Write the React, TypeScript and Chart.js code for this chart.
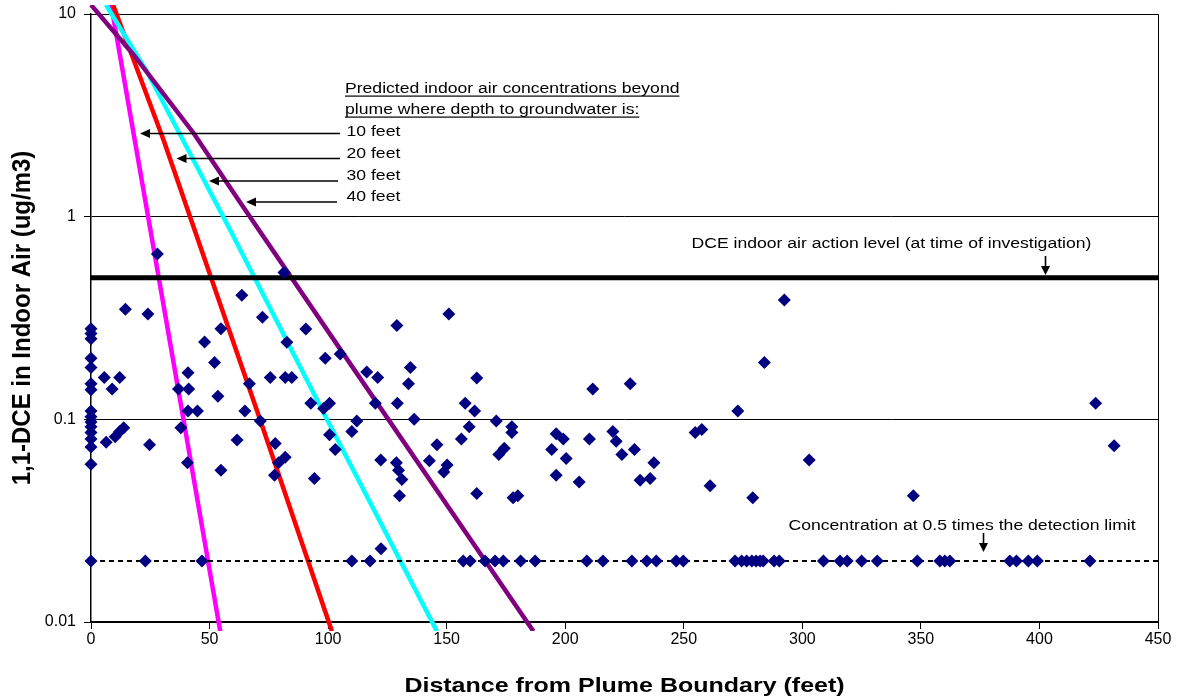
import React, { useEffect, useRef } from "react";
import { Chart, registerables } from "chart.js";

Chart.register(...registerables);

// ---------- DATA ----------
const xMin = 0;
const xMax = 450;
const xStep = 50;
const yMin = 0.01;
const yMax = 10;
const yTickValues = [0.01, 0.1, 1, 10];

// measured indoor air samples (detected)
const detectedDistance = [
  0, 0, 0, 0, 0, 0, 0, 0, 0, 0, 0, 0, 0, 0, 0,
  5.6, 6.4, 8.9, 10.2, 12.1, 12.1, 13.8, 14.5, 24.0, 24.7, 28.0,
  36.9, 37.9, 40.7, 40.9, 40.9, 41.2, 44.9, 47.9, 52.1, 53.5, 54.8, 54.8,
  61.6, 63.6, 64.9, 66.8, 71.4, 72.3, 75.6, 77.4, 77.7, 79.1, 81.4, 81.9, 81.9, 82.6, 84.7,
  90.6, 92.7, 94.2, 98.1, 98.8, 100.6, 100.6, 103.0, 105.1, 110.0, 112.1, 116.3, 119.9, 120.9, 122.2,
  128.8, 129.0, 129.2, 129.7, 130.1, 131.1, 133.9, 134.7, 136.3,
  142.7, 145.9, 148.8, 150.2, 150.9, 156.2, 157.8, 159.5, 161.8, 162.7, 162.7, 170.9, 172.0, 174.3,
  177.5, 177.5, 178.0, 180.0,
  194.3, 196.2, 196.2, 199.2, 200.4, 205.9, 210.2, 211.6, 220.1, 221.5, 223.9, 227.4, 229.2, 231.6,
  235.8, 237.4,
  254.8, 257.6, 261.1, 272.8, 279.1, 284.0, 292.4, 302.9, 346.8, 423.7, 431.5,
];
const detectedConc = [
  0.28, 0.265, 0.25, 0.2, 0.18, 0.15, 0.14, 0.11, 0.103, 0.097, 0.092, 0.086, 0.08, 0.073, 0.06,
  0.161, 0.077, 0.141, 0.082, 0.161, 0.087, 0.091, 0.349, 0.331, 0.075, 0.655,
  0.141, 0.091, 0.061, 0.17, 0.11, 0.141, 0.11, 0.241, 0.191, 0.13, 0.28, 0.056,
  0.079, 0.41, 0.11, 0.15, 0.098, 0.319, 0.161, 0.053, 0.076, 0.061, 0.53, 0.065, 0.161, 0.24, 0.161,
  0.279, 0.12, 0.051, 0.113, 0.2, 0.12, 0.084, 0.071, 0.21, 0.087, 0.098, 0.171, 0.12, 0.161, 0.063,
  0.061, 0.29, 0.12, 0.056, 0.042, 0.0505, 0.15, 0.18, 0.1,
  0.0625, 0.075, 0.055, 0.0595, 0.331, 0.08, 0.12, 0.092, 0.11, 0.16, 0.043, 0.098, 0.067, 0.072,
  0.092, 0.086, 0.041, 0.042,
  0.071, 0.085, 0.053, 0.08, 0.064, 0.049, 0.08, 0.141, 0.087, 0.078, 0.067, 0.15, 0.071, 0.05,
  0.051, 0.061,
  0.086, 0.089, 0.047, 0.11, 0.041, 0.191, 0.388, 0.063, 0.042, 0.12, 0.074,
];

// non-detects plotted at 0.5 x detection limit
const nondetectDistance = [
  0, 22.9, 46.8, 110.0, 117.7, 122.3, 157.0, 159.9, 166.2, 170.4, 173.9, 181.2, 187.3,
  209.1, 215.9, 228.1, 234.4, 238.4, 246.8, 249.8, 271.6, 274.4, 276.5, 278.7, 280.5,
  282.2, 283.5, 288.1, 290.3, 308.9, 315.9, 318.9, 325.0, 331.6, 348.5, 358.0, 360.1,
  362.2, 387.5, 390.3, 395.3, 399.1, 421.3,
];
const nondetectConc = [
  0.02, 0.02, 0.02, 0.02, 0.02, 0.023, 0.02, 0.02, 0.02, 0.02, 0.02, 0.02, 0.02,
  0.02, 0.02, 0.02, 0.02, 0.02, 0.02, 0.02, 0.02, 0.02, 0.02, 0.02, 0.02,
  0.02, 0.02, 0.02, 0.02, 0.02, 0.02, 0.02, 0.02, 0.02, 0.02, 0.02, 0.02,
  0.02, 0.02, 0.02, 0.02, 0.02, 0.02,
];

// predicted curves by depth to groundwater
const tenFtDistance = [8.5, 37.6, 54.5];
const tenFtConc = [11.1, 0.124, 0.009];
const twentyFtDistance = [9.3, 30.6, 71.4, 101.6];
const twentyFtConc = [11.1, 2.39, 0.099, 0.009];
const thirtyFtDistance = [6.3, 23.6, 58.7, 99.5, 145.9];
const thirtyFtConc = [11.1, 5.2, 0.86, 0.1, 0.009];
const fortyFtDistance = [0, 18.0, 43.3, 62.2, 105.1, 186.6];
const fortyFtConc = [11.1, 6.28, 2.58, 1.21, 0.222, 0.009];

const actionLevel = 0.5;
const halfDetectionLimit = 0.02;

const curveLabels = ["10 feet", "20 feet", "30 feet", "40 feet"];
const noteTitle1 = "Predicted indoor air concentrations beyond";
const noteTitle2 = "plume where depth to groundwater is:";
const actionNote = "DCE indoor air action level (at time of investigation)";
const detectionNote = "Concentration at 0.5 times the detection limit";
const xTitle = "Distance from Plume Boundary (feet)";
const yTitle = "1,1-DCE in Indoor Air (ug/m3)";

// ---------- helpers ----------
const FONT = "'Liberation Sans', Arial, Helvetica, sans-serif";

const pts = (xs: number[], ys: number[]) => xs.map((x, i) => ({ x, y: ys[i] }));

function drawStretched(
  ctx: CanvasRenderingContext2D,
  text: string,
  x: number,
  y: number,
  font: string,
  sx: number,
  align: CanvasTextAlign = "left"
) {
  ctx.save();
  ctx.font = font;
  ctx.textBaseline = "alphabetic";
  ctx.textAlign = align;
  ctx.fillStyle = "#000";
  ctx.translate(x, y);
  ctx.scale(sx, 1);
  ctx.fillText(text, 0, 0);
  const w = ctx.measureText(text).width * sx;
  ctx.restore();
  return w;
}

function arrowLeft(ctx: CanvasRenderingContext2D, tailX: number, tipX: number, y: number) {
  ctx.save();
  ctx.strokeStyle = "#000";
  ctx.fillStyle = "#000";
  ctx.lineWidth = 1.6;
  ctx.beginPath();
  ctx.moveTo(tailX, y);
  ctx.lineTo(tipX + 8, y);
  ctx.stroke();
  ctx.beginPath();
  ctx.moveTo(tipX, y);
  ctx.lineTo(tipX + 10, y - 4.5);
  ctx.lineTo(tipX + 10, y + 4.5);
  ctx.closePath();
  ctx.fill();
  ctx.restore();
}

function arrowDown(ctx: CanvasRenderingContext2D, x: number, tailY: number, tipY: number) {
  ctx.save();
  ctx.strokeStyle = "#000";
  ctx.fillStyle = "#000";
  ctx.lineWidth = 1.6;
  ctx.beginPath();
  ctx.moveTo(x, tailY);
  ctx.lineTo(x, tipY - 6);
  ctx.stroke();
  ctx.beginPath();
  ctx.moveTo(x, tipY);
  ctx.lineTo(x - 4.5, tipY - 9);
  ctx.lineTo(x + 4.5, tipY - 9);
  ctx.closePath();
  ctx.fill();
  ctx.restore();
}

const framePlugin = {
  id: "frame",
  beforeDatasetsDraw(chart: any) {
    const { left, top, right, bottom } = chart.chartArea;
    const ctx = chart.ctx as CanvasRenderingContext2D;
    ctx.save();
    ctx.strokeStyle = "#000";
    ctx.lineWidth = 1;
    ctx.beginPath();
    ctx.moveTo(left, top + 0.5);
    ctx.lineTo(right + 0.5, top + 0.5);
    ctx.lineTo(right + 0.5, bottom);
    ctx.stroke();
    ctx.restore();
  },
  afterDraw(chart: any) {
    const { left, top, right, bottom } = chart.chartArea;
    const ctx = chart.ctx as CanvasRenderingContext2D;
    const S = 1.15;
    const f15 = `15.3px ${FONT}`;

    // curve legend note
    const w1 = drawStretched(ctx, noteTitle1, 345, 92.5, f15, S);
    const w2 = drawStretched(ctx, noteTitle2, 345, 113.5, f15, S);
    ctx.save();
    ctx.fillStyle = "#000";
    ctx.fillRect(345, 95.5, w1, 1.2);
    ctx.fillRect(345, 116.5, w2, 1.2);
    ctx.restore();

    const labelBase = [136, 157.5, 179.5, 201];
    const arrowY = [133.5, 158.5, 181, 202];
    const arrowTip = [140, 176.5, 209, 246];
    const arrowTail = [340, 340, 338, 337];
    curveLabels.forEach((t, i) => {
      drawStretched(ctx, t, 346.5, labelBase[i], f15, S);
      arrowLeft(ctx, arrowTail[i], arrowTip[i], arrowY[i]);
    });

    // action level note
    drawStretched(ctx, actionNote, 691.5, 248, f15, S);
    arrowDown(ctx, 1045.5, 256, 275);

    // detection limit note
    drawStretched(ctx, detectionNote, 788.5, 529.5, f15, S);
    arrowDown(ctx, 983.5, 533, 552);

    // x title
    drawStretched(ctx, xTitle, (left + right) / 2, 692, `bold 21px ${FONT}`, 1.19, "center");

    // y title
    ctx.save();
    ctx.translate(30, (top + bottom) / 2);
    ctx.rotate(-Math.PI / 2);
    ctx.scale(1, 1.1);
    ctx.font = `bold 24px ${FONT}`;
    ctx.textAlign = "center";
    ctx.textBaseline = "alphabetic";
    ctx.fillStyle = "#000";
    ctx.fillText(yTitle, 0, 0);
    ctx.restore();
  },
};

export default function App() {
  const canvasRef = useRef<HTMLCanvasElement | null>(null);

  useEffect(() => {
    document.body.style.margin = "0";
    const canvas = canvasRef.current;
    if (!canvas) return;

    const curve = (data: any[], color: string, order: number) => ({
      data,
      showLine: true,
      borderColor: color,
      backgroundColor: color,
      borderWidth: 4.5,
      pointRadius: 0,
      pointHoverRadius: 0,
      tension: 0,
      order,
      clip: { left: 5, top: 9, right: 0, bottom: 9 },
    });

    const chart = new Chart(canvas, {
      type: "scatter",
      data: {
        datasets: [
          {
            data: pts(detectedDistance, detectedConc),
            pointStyle: "rectRot",
            pointRadius: 6.5,
            pointHoverRadius: 6.5,
            backgroundColor: "#000080",
            borderColor: "#000080",
            borderWidth: 0,
            order: 0,
            clip: false,
          } as any,
          {
            data: pts(nondetectDistance, nondetectConc),
            pointStyle: "rectRot",
            pointRadius: 6.5,
            pointHoverRadius: 6.5,
            backgroundColor: "#000080",
            borderColor: "#000080",
            borderWidth: 0,
            order: 0,
            clip: false,
          } as any,
          {
            data: [
              { x: xMin, y: actionLevel },
              { x: xMax, y: actionLevel },
            ],
            showLine: true,
            borderColor: "#000",
            borderWidth: 5,
            pointRadius: 0,
            order: 1,
          } as any,
          {
            data: [
              { x: xMin, y: halfDetectionLimit },
              { x: xMax, y: halfDetectionLimit },
            ],
            showLine: true,
            borderColor: "#000",
            borderWidth: 2,
            borderDash: [5, 4],
            pointRadius: 0,
            order: 2,
          } as any,
          curve(pts(fortyFtDistance, fortyFtConc), "#800080", 3) as any,
          curve(pts(thirtyFtDistance, thirtyFtConc), "#00FFFF", 4) as any,
          curve(pts(twentyFtDistance, twentyFtConc), "#FF0000", 5) as any,
          curve(pts(tenFtDistance, tenFtConc), "#FF00FF", 6) as any,
        ],
      },
      options: {
        animation: false,
        responsive: false,
        maintainAspectRatio: false,
        events: [],
        layout: { padding: { left: 0, top: 14, right: 22, bottom: 0 } },
        plugins: {
          legend: { display: false },
          tooltip: { enabled: false },
          title: { display: false },
        },
        scales: {
          x: {
            type: "linear",
            min: xMin,
            max: xMax,
            afterFit: (scale: any) => {
              scale.height = 76;
              scale.paddingLeft = 0;
              scale.paddingRight = 0;
            },
            ticks: {
              stepSize: xStep,
              color: "#000",
              font: { family: FONT, size: 16 },
              padding: 1,
              maxRotation: 0,
            },
            grid: {
              drawOnChartArea: false,
              drawTicks: true,
              tickLength: 7,
              tickColor: "#000",
              color: "#000",
            },
            border: { display: true, color: "#000", width: 2 },
          },
          y: {
            type: "logarithmic",
            min: yMin,
            max: yMax,
            afterFit: (scale: any) => {
              scale.width = 91;
              scale.paddingTop = 0;
              scale.paddingBottom = 0;
            },
            afterBuildTicks: (scale: any) => {
              scale.ticks = yTickValues.map((v) => ({ value: v }));
            },
            ticks: {
              color: "#000",
              font: { family: FONT, size: 16 },
              padding: 8,
              callback: (v: any) => String(v),
            },
            grid: {
              drawOnChartArea: true,
              drawTicks: true,
              tickLength: 7,
              tickColor: "#000",
              color: "#000",
              lineWidth: 1,
            },
            border: { display: true, color: "#000", width: 1.5 },
          },
        },
      } as any,
      plugins: [framePlugin],
    });

    return () => {
      chart.destroy();
    };
  }, []);

  return (
    <div style={{ position: "absolute", left: 0, top: 0, width: 1180, height: 698, background: "#fff" }}>
      <canvas ref={canvasRef} width={1180} height={698} style={{ display: "block" }} />
    </div>
  );
}
